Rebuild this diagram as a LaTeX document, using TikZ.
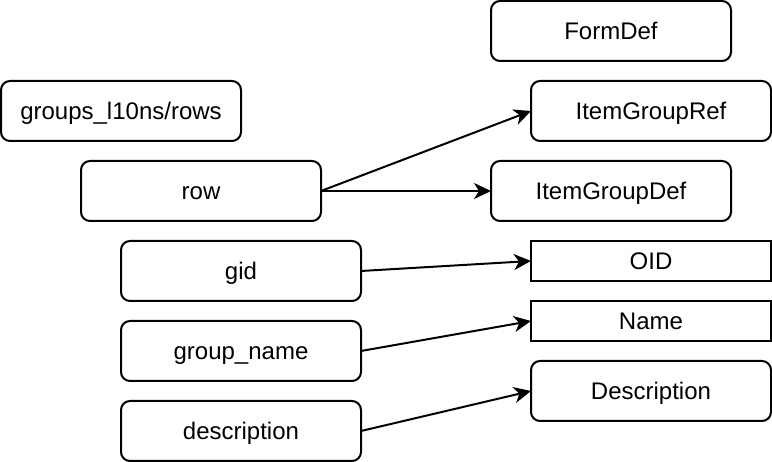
\documentclass[tikz,border=0pt]{standalone}
\usepackage{fontspec}
\setmainfont{Liberation Sans}
\usetikzlibrary{arrows.meta}
\begin{document}
\begin{tikzpicture}[x=1pt,y=-1pt,
  box/.style={draw=black,line width=2pt,rounded corners=9pt,minimum width=240pt,minimum height=60pt,inner sep=0pt,outer sep=0pt,text height=18pt,text depth=0pt,font=\fontsize{24}{28}\selectfont,fill=white},
  flat/.style={box,rounded corners=0pt,minimum height=40pt},
  conn/.style={line width=2pt,-{Stealth[length=17pt,width=16pt,inset=5pt]}}]
\useasboundingbox (0,0) rectangle (772,462);
\node[box] (formdef) at (611,31) {FormDef};
\node[box] (groups) at (121,111) {groups\_l10ns/rows};
\node[box] (igref) at (651,111) {ItemGroupRef};
\node[box] (row) at (201,191) {row};
\node[box] (igdef) at (611,191) {ItemGroupDef};
\node[box] (gid) at (241,271) {gid};
\node[flat] (oid) at (651,261) {OID};
\node[box] (gname) at (241,351) {group\_name};
\node[flat] (name) at (651,321) {Name};
\node[box] (desc) at (241,431) {description};
\node[box] (Desc) at (651,391) {Description};
\draw[conn] (row.east) -- (igref.west);
\draw[conn] (row.east) -- (igdef.west);
\draw[conn] (gid.east) -- (oid.west);
\draw[conn] (gname.east) -- (name.west);
\draw[conn] (desc.east) -- (Desc.west);
\end{tikzpicture}
\end{document}
